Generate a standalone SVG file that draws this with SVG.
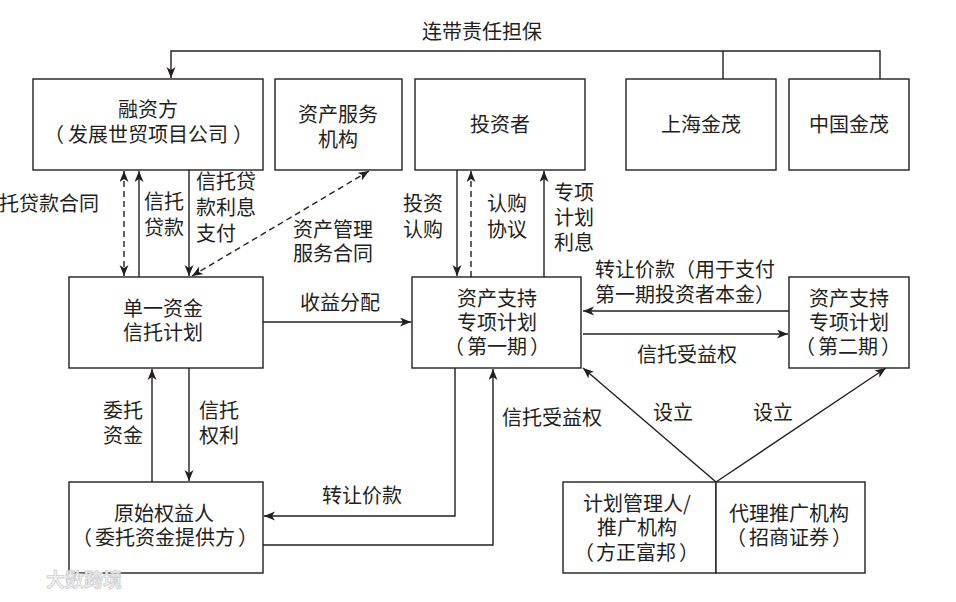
<svg xmlns="http://www.w3.org/2000/svg" width="956" height="602" viewBox="0 0 956 602">
<defs>
<marker id="ah" markerUnits="userSpaceOnUse" markerWidth="12" markerHeight="10" refX="11" refY="4.5" orient="auto-start-reverse">
<path d="M0,0 L11,4.5 L0,9 L3,4.5 z" fill="#231f20"/>
</marker>
<style>
.b{fill:#fff;stroke:#231f20;stroke-width:1.4}
.t{font-family:"Noto Sans CJK SC","Noto Sans CJK JP",sans-serif;font-size:20px;fill:#231f20}
.m{text-anchor:middle}
.e{text-anchor:end}
.c{fill:none;stroke:#231f20;stroke-width:1.4}
.d{stroke-dasharray:6,4}
.a{marker-end:url(#ah)}
.s{marker-start:url(#ah)}
</style>
</defs>
<rect width="956" height="602" fill="#fff"/>

<g id="connectors">
<polyline class="c a" points="880,79 880,51 171,51 171,78"/>
<line class="c" x1="723" y1="51" x2="723" y2="79"/>
<line class="c d a s" x1="124" y1="171" x2="124" y2="276"/>
<line class="c a" x1="139" y1="277" x2="139" y2="171"/>
<line class="c a" x1="189" y1="170" x2="189" y2="276"/>
<line class="c d a s" x1="369" y1="171" x2="192" y2="276"/>
<line class="c a" x1="457" y1="170" x2="457" y2="276"/>
<line class="c d a" x1="471" y1="277" x2="471" y2="171"/>
<line class="c a" x1="544" y1="277" x2="544" y2="171"/>
<line class="c a" x1="263" y1="322" x2="411" y2="322"/>
<line class="c a" x1="789" y1="311" x2="583" y2="311"/>
<line class="c a" x1="583" y1="334" x2="788" y2="334"/>
<line class="c a" x1="152" y1="482" x2="152" y2="369"/>
<line class="c a" x1="189" y1="368" x2="189" y2="481"/>
<polyline class="c a" points="455,368 455,516 264,516"/>
<polyline class="c a" points="263,545 493,545 493,369"/>
<line class="c a" x1="716" y1="482" x2="583" y2="368"/>
<line class="c a" x1="716" y1="482" x2="886" y2="368"/>
<text class="t m" x="482" y="39">连带责任担保</text>
<text class="t e" x="99" y="211">信托贷款合同</text>
<text class="t" x="144" y="209">信托</text>
<text class="t" x="144" y="235">贷款</text>
<text class="t" x="196" y="189">信托贷</text>
<text class="t" x="196" y="215">款利息</text>
<text class="t" x="196" y="241">支付</text>
<text class="t" x="293" y="237">资产管理</text>
<text class="t" x="293" y="261">服务合同</text>
<text class="t" x="403" y="211">投资</text>
<text class="t" x="403" y="237">认购</text>
<text class="t" x="487" y="211">认购</text>
<text class="t" x="487" y="237">协议</text>
<text class="t" x="554" y="200">专项</text>
<text class="t" x="554" y="225">计划</text>
<text class="t" x="554" y="250">利息</text>
<text class="t" x="300" y="310">收益分配</text>
<text class="t" x="595" y="277">转让价款（用于支付</text>
<text class="t" x="595" y="302">第一期投资者本金）</text>
<text class="t" x="637" y="362">信托受益权</text>
<text class="t" x="103" y="418">委托</text>
<text class="t" x="103" y="443">资金</text>
<text class="t" x="199" y="418">信托</text>
<text class="t" x="199" y="443">权利</text>
<text class="t" x="502" y="425">信托受益权</text>
<text class="t" x="322" y="503">转让价款</text>
<text class="t" x="653" y="420">设立</text>
<text class="t" x="753" y="420">设立</text>
</g>

<g id="rongzifang">
<rect class="b" x="33" y="79" width="230" height="91"/>
<text class="t m" x="148" y="117">融资方</text>
<text class="t e" x="64" y="142">（</text>
<text class="t m" x="148" y="142">发展世贸项目公司</text>
<text class="t" x="233" y="142">）</text>
</g>
<g id="zichanfuwu">
<rect class="b" x="275" y="79" width="127" height="91"/>
<text class="t m" x="338" y="122">资产服务</text>
<text class="t m" x="338" y="147">机构</text>
</g>
<g id="touzizhe">
<rect class="b" x="415" y="79" width="170" height="91"/>
<text class="t m" x="500" y="132">投资者</text>
</g>
<g id="shanghaijinmao">
<rect class="b" x="626" y="79" width="150" height="91"/>
<text class="t m" x="701" y="132">上海金茂</text>
</g>
<g id="zhongguojinmao">
<rect class="b" x="789" y="79" width="120" height="91"/>
<text class="t m" x="849" y="132">中国金茂</text>
</g>
<g id="danyi">
<rect class="b" x="69" y="277" width="194" height="91"/>
<text class="t m" x="163" y="316">单一资金</text>
<text class="t m" x="163" y="340">信托计划</text>
</g>
<g id="zhuanxiang1">
<rect class="b" x="412" y="277" width="169" height="91"/>
<text class="t m" x="497" y="306">资产支持</text>
<text class="t m" x="497" y="330">专项计划</text>
<text class="t e" x="464" y="354">（</text>
<text class="t m" x="497" y="354">第一期</text>
<text class="t" x="530" y="354">）</text>
</g>
<g id="zhuanxiang2">
<rect class="b" x="789" y="277" width="120" height="91"/>
<text class="t m" x="849" y="306">资产支持</text>
<text class="t m" x="849" y="330">专项计划</text>
<text class="t e" x="815" y="354">（</text>
<text class="t m" x="848" y="354">第二期</text>
<text class="t" x="881" y="354">）</text>
</g>
<g id="yuanshi">
<rect class="b" x="69" y="482" width="194" height="91"/>
<text class="t m" x="164" y="521">原始权益人</text>
<text class="t e" x="92" y="545">（</text>
<text class="t m" x="165" y="545">委托资金提供方</text>
<text class="t" x="238" y="545">）</text>
</g>
<g id="guanliren">
<rect class="b" x="563" y="482" width="153" height="91"/>
<text class="t m" x="637" y="511">计划管理人/</text>
<text class="t m" x="637" y="535">推广机构</text>
<text class="t e" x="594" y="560">（</text>
<text class="t m" x="636" y="560">方正富邦</text>
<text class="t" x="679" y="560">）</text>
</g>
<g id="daili">
<rect class="b" x="716" y="482" width="149" height="91"/>
<text class="t m" x="789" y="521">代理推广机构</text>
<text class="t e" x="746" y="545">（</text>
<text class="t m" x="789" y="545">招商证券</text>
<text class="t" x="832" y="545">）</text>
</g>
<g id="watermark">
<text x="46" y="587" style="font-family:'Noto Sans CJK SC',sans-serif;font-size:19px;font-weight:bold;fill:#f2f2f2;stroke:#cfcfcf;stroke-width:0.8">大数跨境</text>
</g>
</svg>
